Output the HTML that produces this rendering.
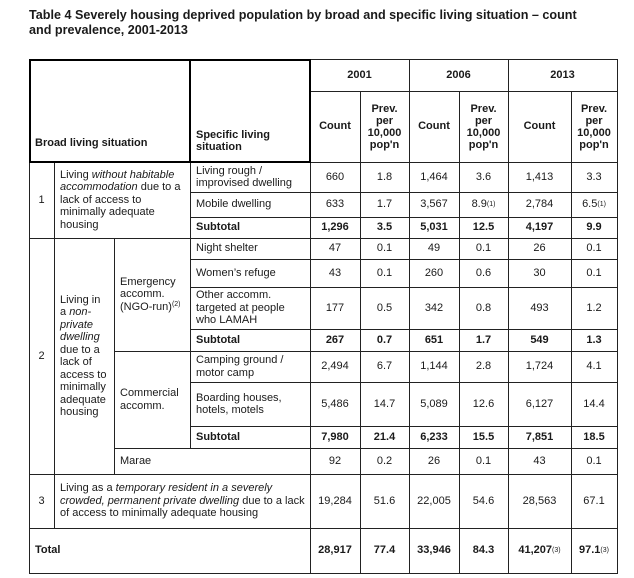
<!DOCTYPE html><html><head><style>
body{margin:0;width:634px;height:578px;background:#fff;position:relative;font-family:"Liberation Sans",Arial,sans-serif;color:#1a1a1a;overflow:hidden}
.h{position:absolute;height:1px;background:#222}
.v{position:absolute;width:1px;background:#222}
.c{position:absolute;display:flex;align-items:center;justify-content:center;text-align:center;font-size:11px;line-height:12.5px}
.l{justify-content:flex-start;text-align:left;padding-left:6px;padding-right:5px;box-sizing:border-box}
b{font-weight:bold}
sup{font-size:7px;vertical-align:top;line-height:8px}
.t{position:absolute;left:29px;top:8px;font-size:12.6px;font-weight:bold;line-height:15px}
</style></head><body>
<div class="t">Table 4 Severely housing deprived population by broad and specific living situation – count<br>and prevalence, 2001-2013</div>
<div id="g"></div>
<script>
var H=[[59,29,617],[91,310,617],[162,29,617],[192,190,617],[217,190,617],[238,29,617],[259,190,617],[287,190,617],[329,190,617],[351,114,617],[382,190,617],[426,190,617],[448,114,617],[474,29,617],[528,29,617],[573,29,617]];
var V=[[29,59,573],[54,162,528],[114,238,474],[190,59,448],[310,59,573],[360,91,573],[409,59,573],[459,91,573],[508,59,573],[571,91,573],[617,59,573]];
var s='';
H.forEach(function(a){s+='<div class="h" style="top:'+a[0]+'px;left:'+a[1]+'px;width:'+(a[2]-a[1]+1)+'px"></div>'});
V.forEach(function(a){s+='<div class="v" style="left:'+a[0]+'px;top:'+a[1]+'px;height:'+(a[2]-a[1]+1)+'px"></div>'});
s+='<div style="position:absolute;left:29px;top:59px;width:278px;height:100px;border:2px solid #000"></div>';
s+='<div style="position:absolute;left:189px;top:59px;width:2px;height:104px;background:#000"></div>';
function c(x1,y1,x2,y2,t,cl){s+='<div class="c '+(cl||'')+'" style="left:'+x1+'px;top:'+y1+'px;width:'+(x2-x1)+'px;height:'+(y2-y1)+'px">'+t+'</div>'}
c(29,124,190,162,'<b>Broad living situation</b>','l');
c(190,120,310,162,'<b>Specific living<br>situation</b>','l');
var yrs=[['2001',310,409],['2006',409,508],['2013',508,617]];
yrs.forEach(function(y){c(y[1],59,y[2],91,'<b>'+y[0]+'</b>')});
var cols=[310,360,409,459,508,571,617];
for(var i=0;i<3;i++){c(cols[2*i],91,cols[2*i+1],162,'<b>Count</b>');c(cols[2*i+1],91,cols[2*i+2],162,'<b style="line-height:12px">Prev.<br>per<br>10,000<br>pop\'n</b>');}
c(29,162,54,238,'1');
c(54,162,190,238,'<div style="text-align:left">Living <i>without habitable accommodation</i> due to a lack of access to minimally adequate housing</div>','l');
c(29,238,54,474,'2');
c(54,238,114,474,'<div style="text-align:left">Living in a <i>non-private dwelling</i> due to a lack of access to minimally adequate housing</div>','l');
c(114,238,190,351,'<div style="text-align:left">Emergency accomm. (NGO-run)<sup>(2)</sup></div>','l');
c(114,351,190,448,'<div style="text-align:left">Commercial accomm.</div>','l');
c(114,448,310,474,'Marae','l');
c(29,474,54,528,'3');
c(54,474,310,528,'<div style="text-align:left">Living as a <i>temporary resident in a severely crowded, permanent private dwelling</i> due to a lack of access to minimally adequate housing</div>','l');
c(29,528,310,573,'<b>Total</b>','l');
var rows=[
[162,192,'Living rough / improvised dwelling',['660','1.8','1,464','3.6','1,413','3.3']],
[192,217,'Mobile dwelling',['633','1.7','3,567','8.9<sup>(1)</sup>','2,784','6.5<sup>(1)</sup>']],
[217,238,'<b>Subtotal</b>',['<b>1,296</b>','<b>3.5</b>','<b>5,031</b>','<b>12.5</b>','<b>4,197</b>','<b>9.9</b>']],
[238,259,'Night shelter',['47','0.1','49','0.1','26','0.1']],
[259,287,'Women’s refuge',['43','0.1','260','0.6','30','0.1']],
[287,329,'Other accomm.<br>targeted at people<br>who LAMAH',['177','0.5','342','0.8','493','1.2']],
[329,351,'<b>Subtotal</b>',['<b>267</b>','<b>0.7</b>','<b>651</b>','<b>1.7</b>','<b>549</b>','<b>1.3</b>']],
[351,382,'Camping ground / motor camp',['2,494','6.7','1,144','2.8','1,724','4.1']],
[382,426,'Boarding houses, hotels, motels',['5,486','14.7','5,089','12.6','6,127','14.4']],
[426,448,'<b>Subtotal</b>',['<b>7,980</b>','<b>21.4</b>','<b>6,233</b>','<b>15.5</b>','<b>7,851</b>','<b>18.5</b>']],
[448,474,null,['92','0.2','26','0.1','43','0.1']],
[474,528,null,['19,284','51.6','22,005','54.6','28,563','67.1']],
[528,573,null,['<b>28,917</b>','<b>77.4</b>','<b>33,946</b>','<b>84.3</b>','<b>41,207</b><sup>(3)</sup>','<b>97.1</b><sup>(3)</sup>']]
];
rows.forEach(function(r){
 if(r[2])c(190,r[0],310,r[1],'<div style="text-align:left">'+r[2]+'</div>','l');
 for(var i=0;i<6;i++)c(cols[i],r[0],cols[i+1],r[1],r[3][i]);
});
document.getElementById('g').innerHTML=s;
</script>
</body></html>
